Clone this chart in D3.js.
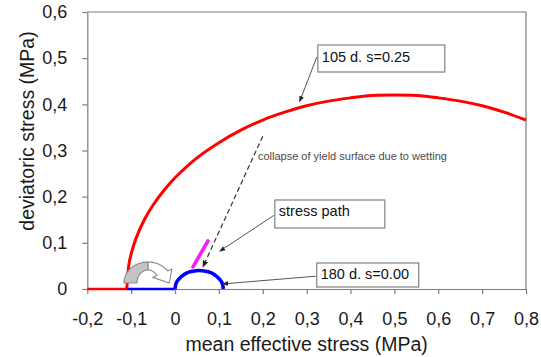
<!DOCTYPE html>
<html>
<head>
<meta charset="utf-8">
<script src="https://cdn.jsdelivr.net/npm/d3@7/dist/d3.min.js"></script>
<style>
  html, body { margin: 0; padding: 0; background: #fff; }
  svg { display: block; }
  text { font-family: "Liberation Sans", Arial, sans-serif; }
</style>
</head>
<body>
<svg id="chart" width="541" height="357"></svg>
<script>
// Axis ticks
const xTicks = [-0.2, -0.1, 0, 0.1, 0.2, 0.3, 0.4, 0.5, 0.6, 0.7, 0.8];
const yTicks = [0, 0.1, 0.2, 0.3, 0.4, 0.5, 0.6];

// 105 d, s=0.25 : flat part on the p axis, then the yield surface
const redFlatP = [-0.2, -0.11];
const redFlatQ = [0, 0];
const redP = [-0.11, -0.105, -0.1, -0.09, -0.07, -0.05, -0.02, 0, 0.05, 0.1, 0.15, 0.2, 0.25, 0.3, 0.35, 0.4, 0.45, 0.5, 0.55, 0.6, 0.65, 0.7, 0.75, 0.8];
const redQ = [0, 0.054, 0.076, 0.107, 0.150, 0.182, 0.220, 0.241, 0.284, 0.317, 0.344, 0.366, 0.383, 0.397, 0.407, 0.414, 0.419, 0.420, 0.419, 0.414, 0.407, 0.397, 0.383, 0.366];

// 180 d, s=0.00 : flat part, then the collapsed yield surface
const blueFlatP = [-0.11, 0];
const blueFlatQ = [0, 0];
const blueP = [0, 0.002, 0.005, 0.01, 0.02, 0.03, 0.04, 0.055, 0.07, 0.08, 0.09, 0.1, 0.105, 0.108, 0.11];
const blueQ = [0, 0.011, 0.017, 0.023, 0.031, 0.036, 0.0385, 0.04, 0.0385, 0.036, 0.031, 0.023, 0.017, 0.011, 0];

// stress path
const pathP = [0.041, 0.075];
const pathQ = [0.048, 0.104];

// call-out labels: text, box corner (p, q), and the point each one marks
const calloutText = ["105 d. s=0.25", "stress path", "180 d. s=0.00"];
const calloutBoxP = [0.3255, 0.2275, 0.323];
const calloutBoxQ = [0.5285, 0.1928, 0.0563];
const calloutTipP = [0.284, 0.102, 0.109];
const calloutTipQ = [0.406, 0.082, 0.011];

// dashed collapse arrow and its note
const collapseP = [0.200, 0.0635];
const collapseQ = [0.331, 0.0477];
const collapseNote = "collapse of yield surface due to wetting";
const collapseNoteAt = [0.189, 0.279];

// centre of the curved wetting arrow
const wetArrowAt = [-0.0617, 0.013];

const svg = d3.select("#chart");
const x = d3.scaleLinear().domain([-0.2, 0.8]).range([87.3, 526]);
const y = d3.scaleLinear().domain([0, 0.6]).range([289, 12]);
const fmt = d => d === 0 ? "0" : d3.format(".1f")(d).replace("−", "-").replace(".", ",");

const frameColor = "#7d7d7d";

const defs = svg.append("defs");
defs.append("marker").attr("id", "head")
  .attr("viewBox", "0 0 10 10").attr("refX", 9).attr("refY", 5)
  .attr("markerWidth", 6).attr("markerHeight", 6).attr("orient", "auto")
  .append("path").attr("d", "M0,1 L10,5 L0,9 Z").attr("fill", "#222");

// frame (top and right edges)
svg.append("path")
  .attr("d", `M${x(-0.2)},${y(0.6)} H${x(0.8)} V${y(0)}`)
  .attr("fill", "none").attr("stroke", frameColor).attr("stroke-width", 1.2);

// axes
const xAxis = svg.append("g").attr("transform", `translate(0,${y(0)})`)
  .call(d3.axisBottom(x).tickValues(xTicks).tickSize(5).tickSizeOuter(0).tickFormat(fmt));
const yAxis = svg.append("g").attr("transform", `translate(${x(-0.2)},0)`)
  .call(d3.axisLeft(y).tickValues(yTicks).tickSize(5).tickSizeOuter(0).tickFormat(fmt));
[xAxis, yAxis].forEach(g => {
  g.select(".domain").attr("stroke", frameColor).attr("stroke-width", 1.2);
  g.selectAll(".tick line").attr("stroke", frameColor).attr("stroke-width", 1.2);
  g.selectAll("text").attr("font-family", "Liberation Sans, Arial, sans-serif")
    .attr("font-size", 18).attr("fill", "#1a1a1a");
});
xAxis.selectAll("text").attr("y", 23).attr("dy", "0.71em");
yAxis.selectAll("text").attr("x", -20);

// axis titles
svg.append("text").attr("x", (x(-0.2) + x(0.8)) / 2).attr("y", 351)
  .attr("text-anchor", "middle").attr("font-size", 19.5).attr("fill", "#1a1a1a")
  .text("mean effective stress (MPa)");
svg.append("text").attr("transform", `translate(34,131) rotate(-90)`)
  .attr("text-anchor", "middle").attr("font-size", 19.5).attr("fill", "#1a1a1a")
  .text("deviatoric stress (MPa)");

const pts = (P, Q) => P.map((p, i) => [x(p), y(Q[i])]);
const lin = d3.line();
const smooth = d3.line().curve(d3.curveCatmullRom.alpha(0.5));

// red curve
svg.append("path").attr("d", lin(pts(redFlatP, redFlatQ)))
  .attr("fill", "none").attr("stroke", "#ff0000").attr("stroke-width", 2.6);
svg.append("path").attr("d", smooth(pts(redP, redQ)))
  .attr("fill", "none").attr("stroke", "#ff0000").attr("stroke-width", 3);

// blue curve
svg.append("path").attr("d", lin(pts(blueFlatP, blueFlatQ)))
  .attr("fill", "none").attr("stroke", "#0000ff").attr("stroke-width", 2.6);
svg.append("path").attr("d", smooth(pts(blueP, blueQ)))
  .attr("fill", "none").attr("stroke", "#0000ff").attr("stroke-width", 3.6);

// stress path segment
svg.append("path").attr("d", lin(pts(pathP, pathQ)))
  .attr("fill", "none").attr("stroke", "#f020f0").attr("stroke-width", 3.6)
  .attr("stroke-linecap", "round");

// curved wetting arrow
(function () {
  const cx = x(wetArrowAt[0]), cy = y(wetArrowAt[1]);
  const ro = [24, 21], ri = [11, 13];
  const rad = a => a * Math.PI / 180;
  const on = (r, a) => [cx + r[0] * Math.cos(rad(a)), cy - r[1] * Math.sin(rad(a))];
  const arc = (r, a0, a1, n = 16) => d3.range(n + 1).map(i => on(r, a0 + (a1 - a0) * i / n));
  const shade = arc(ro, 180, 90).concat(arc(ri, 90, 180));
  const end = 35;
  const O = on(ro, end), I = on(ri, end);
  const v = [O[0] - I[0], O[1] - I[1]];
  const Ow = [O[0] + 0.4 * v[0], O[1] + 0.4 * v[1]];
  const Iw = [I[0] - 0.4 * v[0], I[1] - 0.4 * v[1]];
  const mid = [(O[0] + I[0]) / 2, (O[1] + I[1]) / 2];
  const rm = [(ro[0] + ri[0]) / 2, (ro[1] + ri[1]) / 2];
  let t = [Math.sin(rad(end)) * rm[0], Math.cos(rad(end)) * rm[1]];
  const tl = Math.hypot(t[0], t[1]);
  t = [t[0] / tl, t[1] / tl];
  const tip = [mid[0] + 12 * t[0], mid[1] + 12 * t[1]];
  const open = arc(ro, 90, end).concat([Ow, tip, Iw], arc(ri, end, 90));
  const poly = d3.line().curve(d3.curveLinearClosed);
  svg.append("path").attr("d", poly(open)).attr("fill", "#fff")
    .attr("stroke", "#8a8a8a").attr("stroke-width", 1.1).attr("stroke-linejoin", "round");
  svg.append("path").attr("d", poly(shade)).attr("fill", "#c4c4c4")
    .attr("stroke", "#8a8a8a").attr("stroke-width", 1.1).attr("stroke-linejoin", "round");
})();

// dashed collapse arrow
svg.append("path").attr("d", lin(pts(collapseP, collapseQ)))
  .attr("fill", "none").attr("stroke", "#333").attr("stroke-width", 1.2)
  .attr("stroke-dasharray", "5,3").attr("marker-end", "url(#head)");
svg.append("text").attr("x", x(collapseNoteAt[0])).attr("y", y(collapseNoteAt[1]))
  .attr("font-family", "Lato, 'Open Sans', sans-serif").attr("font-size", 11)
  .attr("fill", "#4a4a4a").text(collapseNote);

// call-outs
const boxW = [127, 110, 102], boxH = [27, 28, 24];
calloutText.forEach((t, i) => {
  const bx = x(calloutBoxP[i]), by = y(calloutBoxQ[i]);
  const sx = bx - 1, sy = by + (i === 0 ? 12 : boxH[i] * 0.55);
  svg.append("line").attr("x1", sx).attr("y1", sy)
    .attr("x2", x(calloutTipP[i])).attr("y2", y(calloutTipQ[i]))
    .attr("stroke", "#555").attr("stroke-width", 1).attr("marker-end", "url(#head)");
  svg.append("rect").attr("x", bx).attr("y", by).attr("width", boxW[i]).attr("height", boxH[i])
    .attr("fill", "#fff").attr("stroke", "#808080").attr("stroke-width", 1.2);
  svg.append("text").attr("x", bx + 4).attr("y", by + (i === 2 ? 16 : 16.5))
    .attr("font-size", 14.5).attr("fill", "#111").text(t);
});
</script>
</body>
</html>
